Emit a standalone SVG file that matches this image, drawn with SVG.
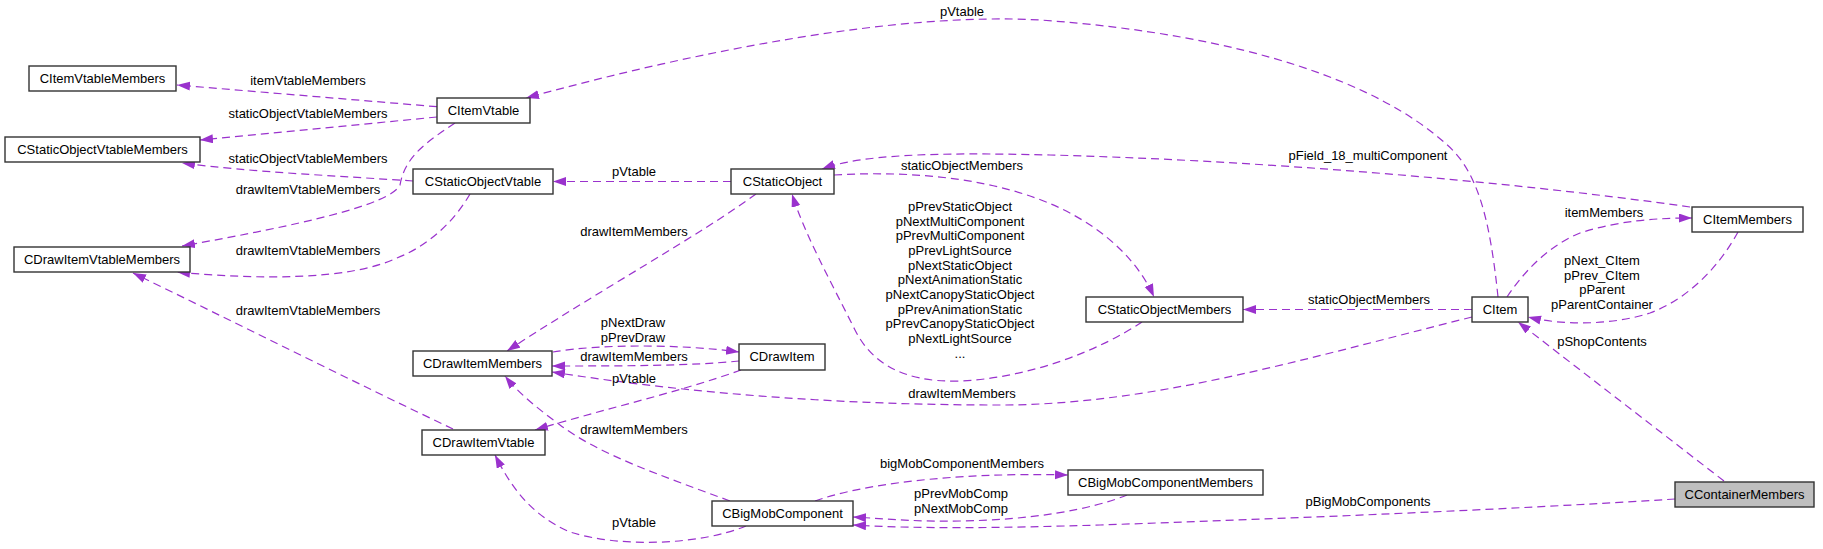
<svg xmlns="http://www.w3.org/2000/svg" width="1823" height="549" viewBox="0 0 1823 549">
<style>
.n rect{fill:#fff;stroke:#333;stroke-width:1.4}
.n.hl rect{fill:#bfbfbf}
text{font-family:"Liberation Sans",Arial,sans-serif;font-size:13px;fill:#000;text-anchor:middle}
.e path{fill:none;stroke:#9a32cd;stroke-width:1.2;stroke-dasharray:8,5;marker-end:url(#ah)}
</style>
<defs>
<marker id="ah" markerUnits="userSpaceOnUse" markerWidth="14" markerHeight="10" refX="13" refY="4.5" orient="auto">
<path d="M0,0 L13,4.5 L0,9 z" fill="#9a32cd"/>
</marker>
</defs>
<rect width="1823" height="549" fill="#fff"/>
<g id="connectors" class="e">
<path d="M437,106.7 L177,85"/>
<path d="M437,117 L200,140"/>
<path d="M413,181 C340,176 250,172 182,163"/>
<path d="M455,123 C430,140 405,155 400,185 C390,205 300,225 182,246"/>
<path d="M470,194 C455,220 430,245 397,258 C350,280 260,280 177,272"/>
<path d="M453,429 C350,380 230,320 133,273"/>
<path d="M731,181.5 L553,181.5"/>
<path d="M1498,297 C1490,220 1478,170 1445,143 C1380,85 1250,35 1040,20 C900,12 700,50 526,98"/>
<path d="M1690,207 C1500,180 1250,160 1050,155 C930,152 860,155 822,169"/>
<path d="M834,175 C920,170 1000,180 1060,208 C1110,232 1140,265 1154,297"/>
<path d="M1142,322 C1100,350 1030,378 960,381 C900,383 870,360 855,330 C830,280 805,235 792,194"/>
<path d="M756,194 C700,235 600,290 507,351"/>
<path d="M553,352 C600,344 680,344 739,352"/>
<path d="M739,361 C690,366 620,366 552,366"/>
<path d="M1472,317 C1300,360 1150,405 1000,405 C850,405 700,395 552,372"/>
<path d="M741,370 C680,392 600,410 535,430"/>
<path d="M730,501 C660,475 600,455 560,425 C540,410 520,395 505,376"/>
<path d="M815,501 C860,485 950,472 1068,475"/>
<path d="M1127,495 C1090,510 1030,520 960,521 C920,522 890,519 853,517"/>
<path d="M1675,499 C1500,510 1300,518 1100,525 C1000,528 920,529 853,525"/>
<path d="M746,526 C700,545 620,548 570,532 C530,515 510,485 495,455"/>
<path d="M1472,309.5 L1243,309.5"/>
<path d="M1507,297 C1525,270 1550,245 1580,233 C1620,220 1660,218 1692,218"/>
<path d="M1738,232 C1720,265 1690,298 1650,313 C1610,326 1560,325 1528,317"/>
<path d="M1724,481 L1518,322"/>
</g>
<g id="labels">
<text x="308" y="85">itemVtableMembers</text>
<text x="308" y="118">staticObjectVtableMembers</text>
<text x="308" y="163">staticObjectVtableMembers</text>
<text x="308" y="194">drawItemVtableMembers</text>
<text x="308" y="255">drawItemVtableMembers</text>
<text x="308" y="315">drawItemVtableMembers</text>
<text x="634" y="176">pVtable</text>
<text x="962" y="16">pVtable</text>
<text x="1368" y="160">pField_18_multiComponent</text>
<text x="962" y="170">staticObjectMembers</text>
<text x="960" y="211">pPrevStaticObject</text>
<text x="960" y="225.7">pNextMultiComponent</text>
<text x="960" y="240.3">pPrevMultiComponent</text>
<text x="960" y="255">pPrevLightSource</text>
<text x="960" y="269.7">pNextStaticObject</text>
<text x="960" y="284.3">pNextAnimationStatic</text>
<text x="960" y="299">pNextCanopyStaticObject</text>
<text x="960" y="313.7">pPrevAnimationStatic</text>
<text x="960" y="328.3">pPrevCanopyStaticObject</text>
<text x="960" y="343">pNextLightSource</text>
<text x="960" y="357.7">...</text>
<text x="634" y="236">drawItemMembers</text>
<text x="633" y="327">pNextDraw</text>
<text x="633" y="342">pPrevDraw</text>
<text x="634" y="361">drawItemMembers</text>
<text x="962" y="398">drawItemMembers</text>
<text x="634" y="383">pVtable</text>
<text x="634" y="434">drawItemMembers</text>
<text x="962" y="468">bigMobComponentMembers</text>
<text x="961" y="498">pPrevMobComp</text>
<text x="961" y="512.7">pNextMobComp</text>
<text x="1368" y="506">pBigMobComponents</text>
<text x="634" y="527">pVtable</text>
<text x="1369" y="304">staticObjectMembers</text>
<text x="1604" y="216.7">itemMembers</text>
<text x="1602" y="265">pNext_CItem</text>
<text x="1602" y="279.6">pPrev_CItem</text>
<text x="1602" y="294.2">pParent</text>
<text x="1602" y="308.8">pParentContainer</text>
<text x="1602" y="346">pShopContents</text>
</g>
<g id="CItemVtableMembers" class="n"><rect x="29" y="66" width="147" height="25"/><text x="102.5" y="82.5">CItemVtableMembers</text></g>
<g id="CItemVtable" class="n"><rect x="437" y="98" width="93" height="25"/><text x="483.5" y="114.5">CItemVtable</text></g>
<g id="CStaticObjectVtableMembers" class="n"><rect x="5" y="137" width="195" height="25"/><text x="102.5" y="153.5">CStaticObjectVtableMembers</text></g>
<g id="CStaticObjectVtable" class="n"><rect x="413" y="169" width="140" height="25"/><text x="483" y="185.5">CStaticObjectVtable</text></g>
<g id="CDrawItemVtableMembers" class="n"><rect x="14" y="247" width="176" height="25"/><text x="102" y="263.5">CDrawItemVtableMembers</text></g>
<g id="CStaticObject" class="n"><rect x="731" y="169" width="103" height="25"/><text x="782.5" y="185.5">CStaticObject</text></g>
<g id="CDrawItemMembers" class="n"><rect x="413" y="351" width="139" height="25"/><text x="482.5" y="367.5">CDrawItemMembers</text></g>
<g id="CDrawItem" class="n"><rect x="739" y="344" width="86" height="26"/><text x="782" y="361">CDrawItem</text></g>
<g id="CDrawItemVtable" class="n"><rect x="422" y="430" width="123" height="25"/><text x="483.5" y="446.5">CDrawItemVtable</text></g>
<g id="CStaticObjectMembers" class="n"><rect x="1086" y="297" width="157" height="25"/><text x="1164.5" y="313.5">CStaticObjectMembers</text></g>
<g id="CBigMobComponent" class="n"><rect x="712" y="501" width="141" height="25"/><text x="782.5" y="517.5">CBigMobComponent</text></g>
<g id="CBigMobComponentMembers" class="n"><rect x="1068" y="470" width="195" height="25"/><text x="1165.5" y="486.5">CBigMobComponentMembers</text></g>
<g id="CItem" class="n"><rect x="1472" y="297" width="56" height="25"/><text x="1500" y="313.5">CItem</text></g>
<g id="CItemMembers" class="n"><rect x="1692" y="207" width="111" height="25"/><text x="1747.5" y="223.5">CItemMembers</text></g>
<g id="CContainerMembers" class="n hl"><rect x="1675" y="482" width="139" height="25"/><text x="1744.5" y="498.5">CContainerMembers</text></g>
</svg>
